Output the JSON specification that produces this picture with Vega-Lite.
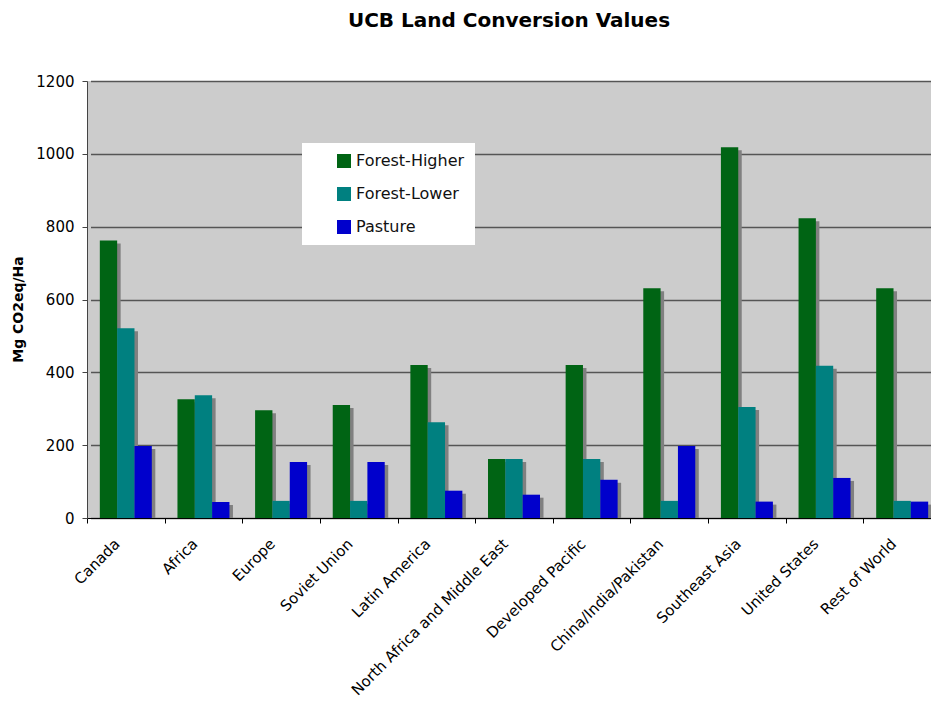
{
  "$schema": "https://vega.github.io/schema/vega-lite/v6.json",
  "width": 844,
  "height": 437,
  "autosize": {"type": "none"},
  "padding": {"left": 87, "top": 81, "right": 0, "bottom": 184},
  "background": "white",
  "title": {
    "text": "UCB Land Conversion Values",
    "font": "DejaVu Sans",
    "fontSize": 20,
    "fontWeight": "bold",
    "color": "#000000",
    "anchor": "middle",
    "offset": 43
  },
  "config": {
    "view": {"fill": "#CCCCCC", "stroke": null},
    "font": "DejaVu Sans"
  },
  "data": {
    "values": [
      {"region": "Canada", "type": "Forest-Higher", "value": 762},
      {"region": "Canada", "type": "Forest-Lower", "value": 521},
      {"region": "Canada", "type": "Pasture", "value": 198},
      {"region": "Africa", "type": "Forest-Higher", "value": 326},
      {"region": "Africa", "type": "Forest-Lower", "value": 337},
      {"region": "Africa", "type": "Pasture", "value": 44},
      {"region": "Europe", "type": "Forest-Higher", "value": 296},
      {"region": "Europe", "type": "Forest-Lower", "value": 47},
      {"region": "Europe", "type": "Pasture", "value": 154},
      {"region": "Soviet Union", "type": "Forest-Higher", "value": 310},
      {"region": "Soviet Union", "type": "Forest-Lower", "value": 47},
      {"region": "Soviet Union", "type": "Pasture", "value": 154},
      {"region": "Latin America", "type": "Forest-Higher", "value": 420},
      {"region": "Latin America", "type": "Forest-Lower", "value": 263},
      {"region": "Latin America", "type": "Pasture", "value": 75},
      {"region": "North Africa and Middle East", "type": "Forest-Higher", "value": 162},
      {"region": "North Africa and Middle East", "type": "Forest-Lower", "value": 162},
      {"region": "North Africa and Middle East", "type": "Pasture", "value": 64},
      {"region": "Developed Pacific", "type": "Forest-Higher", "value": 420},
      {"region": "Developed Pacific", "type": "Forest-Lower", "value": 162},
      {"region": "Developed Pacific", "type": "Pasture", "value": 105},
      {"region": "China/India/Pakistan", "type": "Forest-Higher", "value": 631},
      {"region": "China/India/Pakistan", "type": "Forest-Lower", "value": 47},
      {"region": "China/India/Pakistan", "type": "Pasture", "value": 198},
      {"region": "Southeast Asia", "type": "Forest-Higher", "value": 1018},
      {"region": "Southeast Asia", "type": "Forest-Lower", "value": 305},
      {"region": "Southeast Asia", "type": "Pasture", "value": 45},
      {"region": "United States", "type": "Forest-Higher", "value": 823},
      {"region": "United States", "type": "Forest-Lower", "value": 418},
      {"region": "United States", "type": "Pasture", "value": 110},
      {"region": "Rest of World", "type": "Forest-Higher", "value": 631},
      {"region": "Rest of World", "type": "Forest-Lower", "value": 47},
      {"region": "Rest of World", "type": "Pasture", "value": 45}
    ]
  },
  "encoding": {
    "xOffset": {
      "field": "type",
      "type": "nominal",
      "scale": {"paddingInner": 0, "paddingOuter": 0.74}
    },
    "y": {
      "field": "value",
      "type": "quantitative",
      "scale": {"domain": [0, 1200], "nice": false},
      "axis": {
        "title": "Mg CO2eq/Ha",
        "titleFontSize": 14,
        "titleFontWeight": "bold",
        "titleColor": "#000000",
        "titleY": 228,
        "titlePadding": 10,
        "values": [0, 200, 400, 600, 800, 1000, 1200],
        "format": "d",
        "labelFontSize": 15,
        "labelColor": "#000000",
        "labelPadding": 8,
        "tickColor": "#444444",
        "tickSize": 5,
        "domainColor": "#444444",
        "grid": true,
        "gridColor": "#555555",
        "gridWidth": 1.5
      }
    }
  },
  "layer": [
    {
      "mark": {"type": "bar", "color": "#808080", "yOffset": 3, "clip": true},
      "encoding": {
        "x": {
          "field": "region",
          "type": "nominal",
          "sort": null,
          "scale": {"paddingInner": 0, "paddingOuter": 0, "range": [3.5, 857.5]},
          "axis": null
        }
      }
    },
    {
      "mark": {"type": "bar", "clip": true},
      "encoding": {
        "x": {
          "field": "region",
          "type": "nominal",
          "sort": null,
          "scale": {"paddingInner": 0, "paddingOuter": 0, "range": [0, 854]},
          "axis": {
            "title": null,
            "labelAngle": -45,
            "labelAlign": "right",
            "labelBaseline": "middle",
            "labelFontSize": 15,
            "labelColor": "#000000",
            "labelPadding": 18,
            "labelOffset": -9,
            "tickBand": "extent",
            "tickColor": "#000000",
            "tickSize": 5,
            "domainColor": "#000000",
            "domainWidth": 1,
            "labelLimit": 400
          }
        },
        "color": {
          "field": "type",
          "type": "nominal",
          "scale": {
            "domain": ["Forest-Higher", "Forest-Lower", "Pasture"],
            "range": ["#006414", "#008080", "#0000CC"]
          },
          "legend": {
            "title": null,
            "orient": "none",
            "legendX": 215,
            "legendY": 62,
            "fillColor": "#FFFFFF",
            "padding": 10,
            "symbolOffset": 24,
            "symbolType": "square",
            "symbolSize": 196,
            "symbolStrokeWidth": 0,
            "labelFontSize": 16,
            "labelColor": "#111111",
            "labelOffset": 4,
            "rowPadding": 17
          }
        }
      }
    }
  ],
  "resolve": {"scale": {"x": "independent"}}
}
